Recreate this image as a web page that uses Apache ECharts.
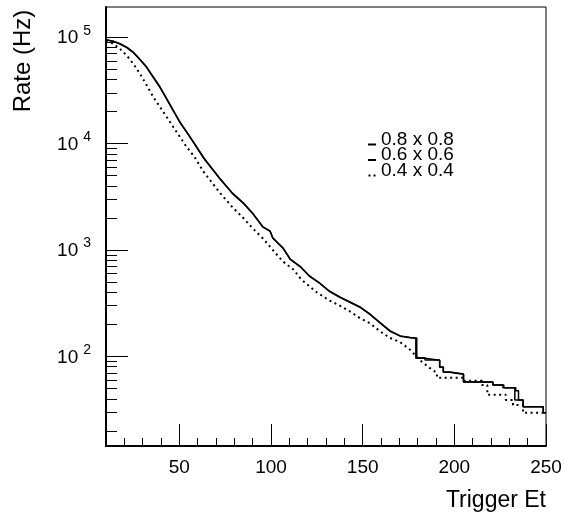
<!DOCTYPE html>
<html><head><meta charset="utf-8">
<script src="https://cdn.jsdelivr.net/npm/echarts@6/dist/echarts.min.js"></script>
<style>html,body{margin:0;padding:0;background:#fff}#c{width:565px;height:520px}</style>
</head><body><div id="c"></div>
<script>
// ---- data ----
const seriesNames = ['0.8 x 0.8', '0.6 x 0.6', '0.4 x 0.4'];

const et08 = [10, 14, 17.6, 21.3, 24.9, 28.5, 32.2, 35.8, 39.5, 43.1, 46.7, 50.4, 54, 57.6, 63.5, 72, 79, 85, 90, 95.5, 99.5, 101, 106.5, 110.5, 116, 121, 126.5, 132, 137.5, 143, 148.5, 154, 159.5, 165, 170.5, 176, 179.5, 179.5, 184, 184, 192, 192, 194, 194, 197.5, 197.5, 205, 205, 221, 221, 227, 227, 233, 233, 237.5, 237.5, 248.5, 248.5, 250];
const rate08 = [94600, 91700, 86700, 80500, 72300, 62000, 52300, 42200, 34000, 26400, 20500, 15900, 12900, 10400, 7280, 4730, 3420, 2760, 2220, 1640, 1510, 1290, 1050, 820, 700, 570, 490, 410, 363, 326, 292, 250, 208, 174, 156, 151, 149, 97, 97, 92.6, 92.6, 79.6, 79.6, 71.5, 71.5, 68.5, 68.5, 57.6, 57.6, 54, 54, 50.7, 50.7, 39, 39, 33.6, 33.6, 29.5, 29.5];

const et06 = [10, 14, 17.6, 21.3, 24.9, 28.5, 32.2, 35.8, 39.5, 43.1, 46.7, 50.4, 54, 57.6, 63.5, 72, 79, 85, 90, 95.5, 99.5, 101, 106.5, 110.5, 116, 121, 126.5, 132, 137.5, 143, 148.5, 154, 159.5, 165, 170.5, 176, 179, 179, 184, 184, 192, 192, 194, 194, 197.5, 197.5, 205, 205, 221, 221, 226.5, 226.5, 233.5, 233.5, 235, 235, 237.5, 237.5, 248.5, 248.5, 250];
const rate06 = [94300, 91300, 86200, 79800, 71600, 61500, 51800, 41800, 33600, 26100, 20300, 15700, 12800, 10300, 7200, 4690, 3390, 2740, 2200, 1660, 1500, 1300, 1040, 815, 695, 566, 487, 407, 360, 323, 290, 248, 206, 172, 155, 150, 148, 96, 96, 92, 92, 79, 79, 71, 71, 68, 68, 57.6, 57.6, 54, 54, 50.7, 50.7, 47.5, 47.5, 39, 39, 33.6, 33.6, 29.5, 29.5];

const et04 = [10, 14, 17.6, 21.3, 24.9, 28.5, 32.2, 35.8, 39.5, 43.1, 46.7, 50.4, 54, 58, 63.5, 72, 79, 85, 90, 95.5, 101, 106.5, 112, 116.5, 125, 132, 137.5, 143, 148.5, 154, 159.5, 165, 170.5, 176, 181, 186.5, 190.5, 190.5, 205, 205, 215, 215, 218, 218, 228, 228, 232, 232, 237.5, 237.5, 250];
const rate04 = [93100, 86700, 77800, 67300, 56200, 45400, 35300, 27400, 22000, 17800, 14300, 11500, 9290, 7600, 5350, 3470, 2520, 1990, 1600, 1290, 1000, 780, 660, 530, 400, 335, 300, 265, 229, 205, 172, 149, 136, 115, 93, 78, 70, 63, 63, 59, 59, 54, 54, 43.6, 43.6, 39, 39, 35, 35, 29.5, 29.5];

const xMajorTicks = [50, 100, 150, 200, 250];
const xMinorTicks = [20, 30, 40, 60, 70, 80, 90, 110, 120, 130, 140, 160, 170, 180, 190, 210, 220, 230, 240];
const yMajorTicks = [100, 1000, 10000, 100000];
const yMinorTicks = [20, 30, 40, 50, 60, 70, 80, 90, 200, 300, 400, 500, 600, 700, 800, 900, 2000, 3000, 4000, 5000, 6000, 7000, 8000, 9000, 20000, 30000, 40000, 50000, 60000, 70000, 80000, 90000];

const xTitle = 'Trigger Et';
const yTitle = 'Rate (Hz)';

// ---- chart ----
const FONT = '"Liberation Sans", Arial, Helvetica, sans-serif';
const X_MIN = 10, X_MAX = 250, Y_MIN = 14.4, Y_MAX = 192000;

function pairs(xs, ys) { return xs.map((x, i) => [x, ys[i]]); }

const chart = echarts.init(document.getElementById('c'), null, { renderer: 'canvas' });
const axisCommonX = { type: 'value', min: X_MIN, max: X_MAX, splitLine: { show: false } };
const axisCommonY = { type: 'log', logBase: 10, min: Y_MIN, max: Y_MAX, splitLine: { show: false } };

chart.setOption({
  animation: false,
  backgroundColor: '#fff',
  grid: { left: 106, right: 19, top: 7, bottom: 74, show: true, borderColor: '#000', borderWidth: 1, backgroundColor: 'transparent' },
  xAxis: [
    Object.assign({}, axisCommonX, {
      position: 'bottom',
      axisLine: { onZero: false, lineStyle: { color: '#000', width: 2 } },
      axisTick: { inside: true, length: 22, customValues: xMajorTicks, lineStyle: { color: '#000', width: 1 } },
      axisLabel: { customValues: xMajorTicks, color: '#000', fontSize: 19, fontFamily: FONT, margin: 12 }
    }),
    Object.assign({}, axisCommonX, {
      position: 'bottom',
      axisLine: { show: false },
      axisTick: { inside: true, length: 8, customValues: xMinorTicks, lineStyle: { color: '#000', width: 1 } },
      axisLabel: { show: false }
    })
  ],
  yAxis: [
    Object.assign({}, axisCommonY, {
      position: 'left',
      axisLine: { onZero: false, lineStyle: { color: '#000', width: 2 } },
      axisTick: { inside: true, length: 22, customValues: yMajorTicks, lineStyle: { color: '#000', width: 1 } },
      axisLabel: {
        customValues: yMajorTicks, margin: 15,
        formatter: v => '{b|10}{s|' + Math.round(Math.log10(v)) + '}',
        rich: {
          b: { fontSize: 19, fontFamily: FONT, color: '#000', padding: [2, 0, 0, 0] },
          s: { fontSize: 14, fontFamily: FONT, color: '#000', padding: [0, 0, 13, 5] }
        }
      }
    }),
    Object.assign({}, axisCommonY, {
      position: 'left',
      axisLine: { show: false },
      axisTick: { inside: true, length: 11, customValues: yMinorTicks, lineStyle: { color: '#000', width: 1 } },
      axisLabel: { show: false }
    })
  ],
  legend: {
    orient: 'vertical', left: 363, top: 125, selectedMode: false,
    itemWidth: 8, itemHeight: 12, itemGap: -3.5,
    itemStyle: { borderWidth: 0 },
    textStyle: { fontSize: 19, fontFamily: FONT, color: '#000', lineHeight: 15.5 },
    data: [
      { name: seriesNames[0], icon: 'path://M0 0L0.01 0M0 10h8v2h-8z' },
      { name: seriesNames[1], icon: 'path://M0 0L0.01 0M0 10h8v2h-8z' },
      { name: seriesNames[2], icon: 'path://M0 0L0.01 0M0 10h2v2h-2zM5 10h2v2h-2z' }
    ]
  },
  graphic: [
    { type: 'text', x: 546, y: 501, style: { text: xTitle, fontSize: 23, fontFamily: FONT, fill: '#000', align: 'right', verticalAlign: 'middle' } },
    { type: 'text', x: 23, y: 61, rotation: Math.PI / 2, style: { text: yTitle, fontSize: 24, fontFamily: FONT, fill: '#000', align: 'center', verticalAlign: 'middle' } }
  ],
  series: [
    { name: seriesNames[0], type: 'line', xAxisIndex: 0, yAxisIndex: 0, symbol: 'none', data: pairs(et08, rate08),
      lineStyle: { color: '#000', width: 1.5 }, itemStyle: { color: '#000' } },
    { name: seriesNames[1], type: 'line', xAxisIndex: 0, yAxisIndex: 0, symbol: 'none', data: pairs(et06, rate06),
      lineStyle: { color: '#000', width: 1.5 }, itemStyle: { color: '#000' } },
    { name: seriesNames[2], type: 'line', xAxisIndex: 0, yAxisIndex: 0, symbol: 'none', data: pairs(et04, rate04),
      lineStyle: { color: '#000', width: 2, type: [2, 3.5] }, itemStyle: { color: '#000' } }
  ]
});
</script>
</body></html>
